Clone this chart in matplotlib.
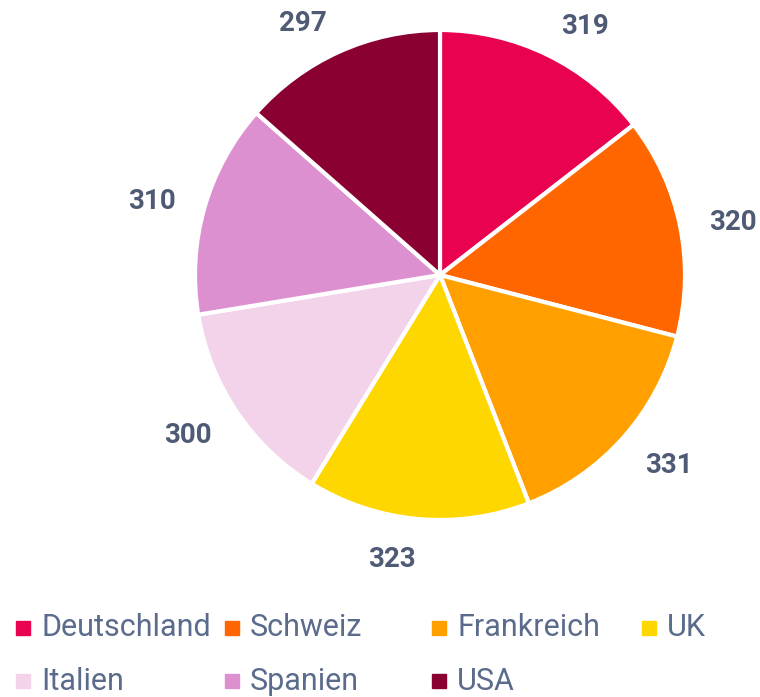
import matplotlib.pyplot as plt
from matplotlib.patches import Rectangle

countries = ["Deutschland", "Schweiz", "Frankreich", "UK", "Italien", "Spanien", "USA"]
values = [319, 320, 331, 323, 300, 310, 297]
colors = ["#E8024F", "#FF6600", "#FFA000", "#FFD700", "#F2D3EA", "#DC90D0", "#8B0033"]

plt.rcParams['font.family'] = ['Roboto', 'DejaVu Sans']

W, H = 760, 697
fig = plt.figure(figsize=(W / 100, H / 100), dpi=100)

# pie centred at (440, 275) px, radius 245 px
cx, cy, r = 440, 275, 245
ax = fig.add_axes([(cx - r) / W, 1 - (cy + r) / H, 2 * r / W, 2 * r / H])
wedges, texts = ax.pie(values, colors=colors, startangle=90, counterclock=False,
                       labels=[str(v) for v in values], labeldistance=1.12,
                       wedgeprops=dict(edgecolor="white", linewidth=3),
                       textprops=dict(color="#4F5B75", fontsize=20, fontweight="bold"))
ax.set_xlim(-1, 1)
ax.set_ylim(-1, 1)
ax.set_aspect("equal")
for t in texts:
    t.set_clip_on(False)
    # labels sit a bit lower in the original
    x, y = t.get_position()
    t.set_position((x, y * 1.024 - 0.017))

# legend, fixed-width columns
col_x = [23, 232, 439, 649]
row_y = [628, 681]
for i, (name, c) in enumerate(zip(countries, colors)):
    x = col_x[i % 4]
    y = row_y[i // 4]
    fig.add_artist(Rectangle(((x - 7) / W, 1 - (y + 7) / H), 14 / W, 14 / H,
                             transform=fig.transFigure, color=c))
    fig.text((x + 18) / W, 1 - y / H, name, color="#5B6B8C", fontsize=22,
             va="center", ha="left")

fig.savefig("out.png", dpi=100)
